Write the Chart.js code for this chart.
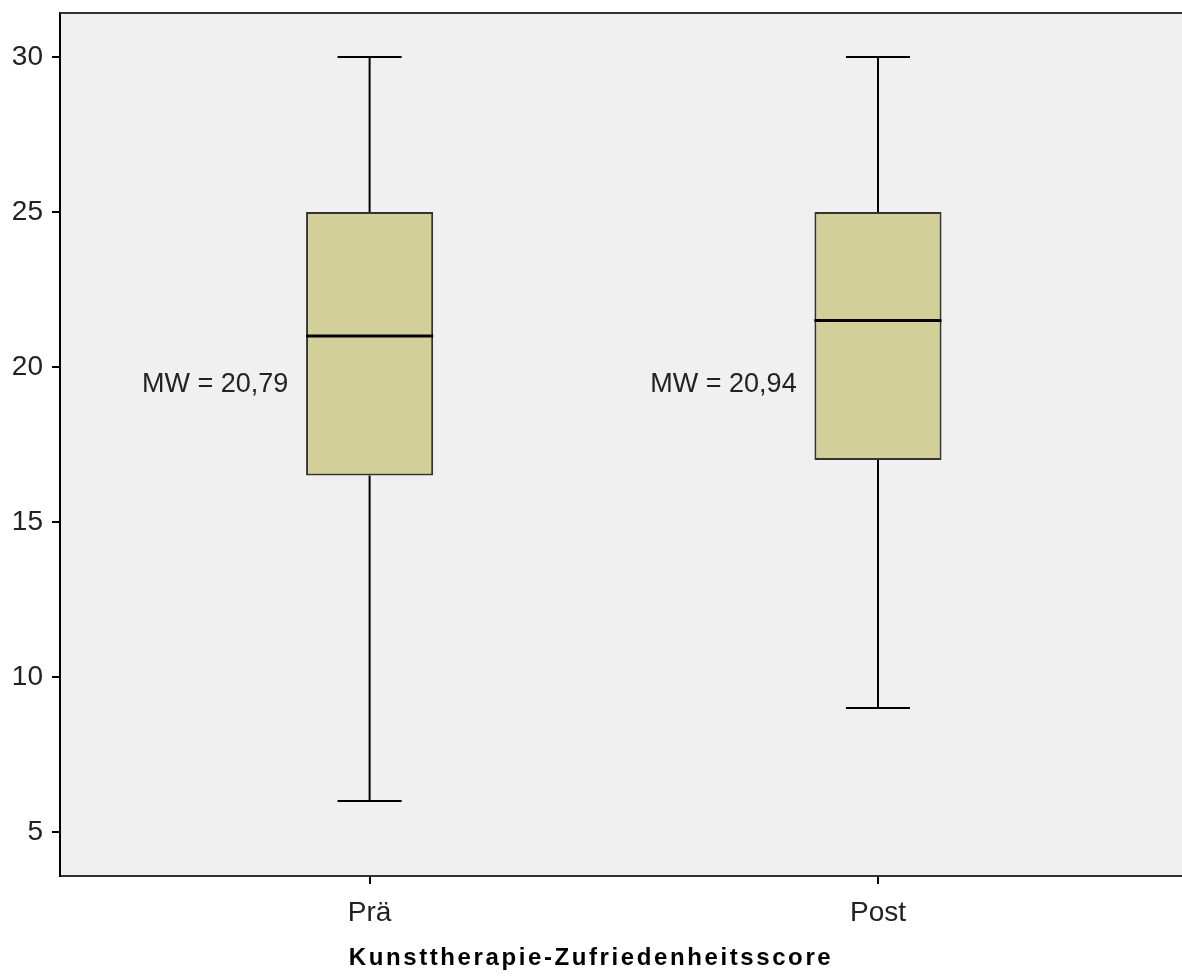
<!DOCTYPE html>
<html lang="de">
<head>
<meta charset="UTF-8">
<title>Kunsttherapie-Zufriedenheitsscore</title>
<script src="https://cdn.jsdelivr.net/npm/chart.js"></script>
<style>
  html, body { margin: 0; padding: 0; background: #fff; }
  #wrap { width: 1182px; height: 976px; }
</style>
</head>
<body>
<div id="wrap"><canvas id="myChart"></canvas></div>
<script>
// Boxplot-Kennwerte je Messzeitpunkt
const categories = ['Prä', 'Post'];
const minValues = [6, 9];
const q1Values = [16.5, 17];
const medianValues = [21, 21.5];
const q3Values = [25, 25];
const maxValues = [30, 30];
const meanLabels = ['MW = 20,79', 'MW = 20,94'];
const yTicks = [5, 10, 15, 20, 25, 30];
const xTitle = 'Kunsttherapie-Zufriedenheitsscore';

const FONT = '"Liberation Sans", Arial, sans-serif';
const boxHalf = 0.125;   // halbe Boxbreite in x-Einheiten
const capHalf = 0.063;   // halbe Whisker-Kappe

function seg(x1, y1, x2, y2, width) {
  return {
    type: 'scatter',
    data: [{x: x1, y: y1}, {x: x2, y: y2}],
    showLine: true,
    borderColor: '#000',
    borderWidth: width,
    pointRadius: 0,
    order: 1
  };
}

const datasets = [];
// Boxen (Q1 bis Q3) als schwebende Balken
datasets.push({
  type: 'bar',
  data: categories.map((c, i) => ({x: i + 1, y: [q1Values[i], q3Values[i]]})),
  backgroundColor: '#d3cf98',
  borderColor: '#333',
  borderWidth: 2,
  borderSkipped: false,
  barPercentage: 0.25,
  categoryPercentage: 1,
  order: 2
});
categories.forEach((c, i) => {
  const x = i + 1;
  datasets.push(seg(x, q3Values[i], x, maxValues[i], 2));
  datasets.push(seg(x, minValues[i], x, q1Values[i], 2));
  datasets.push(seg(x - capHalf, maxValues[i], x + capHalf, maxValues[i], 2));
  datasets.push(seg(x - capHalf, minValues[i], x + capHalf, minValues[i], 2));
  const med = seg(x - boxHalf, medianValues[i], x + boxHalf, medianValues[i], 3);
  med.order = 0;
  datasets.push(med);
});

const plotFrame = {
  id: 'plotFrame',
  beforeDraw(chart) {
    const {ctx, chartArea: a} = chart;
    ctx.save();
    ctx.fillStyle = '#f0f0f0';
    ctx.fillRect(a.left, a.top, a.right - a.left, a.bottom - a.top);
    ctx.restore();
  },
  afterDraw(chart) {
    const {ctx, chartArea: a, scales} = chart;
    ctx.save();
    ctx.strokeStyle = '#333';
    ctx.lineWidth = 2;
    ctx.beginPath();
    ctx.moveTo(a.left, a.top);
    ctx.lineTo(a.right, a.top);
    ctx.stroke();
    // MW-Beschriftungen
    ctx.fillStyle = '#222';
    ctx.font = '27px ' + FONT;
    ctx.textAlign = 'right';
    ctx.textBaseline = 'middle';
    meanLabels.forEach((t, i) => {
      const px = scales.x.getPixelForValue(i + 1 - 0.16);
      const py = scales.y.getPixelForValue(19.45);
      ctx.fillText(t, px, py);
    });
    // Achsentitel
    ctx.fillStyle = '#000';
    ctx.font = 'bold 24px ' + FONT;
    ctx.textAlign = 'center';
    if ('letterSpacing' in ctx) ctx.letterSpacing = '2.6px';
    ctx.fillText(xTitle, chart.width / 2, chart.height - 18);
    ctx.restore();
  }
};

new Chart(document.getElementById('myChart'), {
  data: {datasets},
  plugins: [plotFrame],
  options: {
    responsive: true,
    maintainAspectRatio: false,
    animation: false,
    layout: {padding: {top: 13, left: 0, right: 0, bottom: 0}},
    plugins: {legend: {display: false}, tooltip: {enabled: false}},
    scales: {
      x: {
        type: 'linear',
        min: 0.391,
        max: 2.598,
        offset: false,
        afterBuildTicks(scale) { scale.ticks = categories.map((c, i) => ({value: i + 1})); },
        afterFit(scale) { scale.height = 100; scale.paddingLeft = 0; scale.paddingRight = 0; },
        ticks: {
          callback: (v) => categories[v - 1],
          color: '#222',
          font: {family: FONT, size: 28},
          padding: 12,
          maxRotation: 0
        },
        grid: {offset: false, drawOnChartArea: false, drawTicks: true, tickLength: 8, color: '#000', lineWidth: 2},
        border: {display: true, color: '#333', width: 2}
      },
      y: {
        type: 'linear',
        min: 3.58,
        max: 31.42,
        afterBuildTicks(scale) { scale.ticks = yTicks.map(v => ({value: v})); },
        afterFit(scale) { scale.width = 60; scale.paddingTop = 0; scale.paddingBottom = 0; },
        ticks: {
          color: '#222',
          font: {family: FONT, size: 28},
          padding: 9
        },
        grid: {drawOnChartArea: false, drawTicks: true, tickLength: 8, color: '#000', lineWidth: 2},
        border: {display: true, color: '#000', width: 2}
      }
    }
  }
});
</script>
</body>
</html>
